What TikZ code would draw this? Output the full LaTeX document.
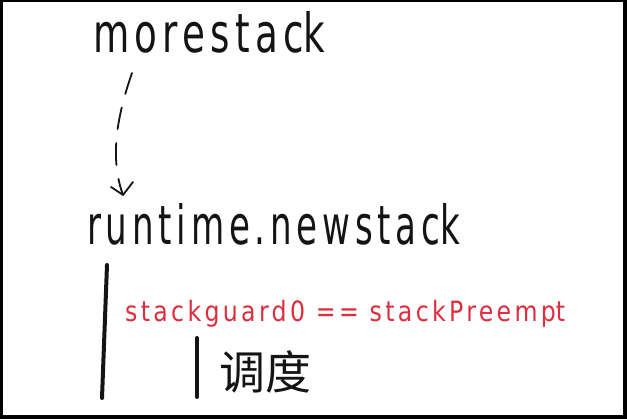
\documentclass[tikz,border=0pt]{standalone}
\usepackage{fontspec}
\setmainfont{DejaVu Sans}
\newfontfamily\spacedfont[LetterSpace=14]{DejaVu Sans}
\newfontfamily\cjkfont{Noto Sans CJK SC}
\definecolor{inkred}{RGB}{222,46,62}
\definecolor{ink}{RGB}{20,20,20}
\tikzset{
  codetext/.style={inner sep=0pt, anchor=base west, text=ink},
  redtext/.style={inner sep=0pt, anchor=base west, text=inkred},
  barline/.style={draw=ink, line width=4pt, line cap=round},
  callarrow/.style={draw=ink, line width=1.8pt, dash pattern=on 22pt off 14pt, line cap=round},
  arrowvee/.style={draw=ink, line width=1.8pt, line cap=round, line join=round}
}
\begin{document}
\begin{tikzpicture}[x=1pt,y=1pt]
\useasboundingbox (0,0) rectangle (627,419);
\fill[black] (0,0) rectangle (627,419);
\fill[white] (3,4) rectangle (623,417);
% texts
\node[codetext] (more) at (93,366) {\resizebox{232pt}{\height}{\fontsize{54}{60}\spacedfont morestac\addfontfeature{LetterSpace=0}k}};
\node[codetext] (newstack) at (87,174) {\resizebox{373pt}{\height}{\fontsize{54}{60}\spacedfont runtime.newstac\addfontfeature{LetterSpace=0}k}};
\node[redtext] (guard) at (125,97) {\resizebox{440pt}{\height}{\fontsize{28}{30}\spacedfont stackguard0 == stackPreemp\addfontfeature{LetterSpace=0}t}};
\node[inner sep=0pt, text=ink] (sched) at (265,47) {\fontsize{46}{50}\selectfont\cjkfont 调度};
% arrow
\coordinate (a0) at (132,346);
\coordinate (a1) at (123,224);
\draw[callarrow] (a0) .. controls (116,300) and (110,260) .. (a1);
\draw[arrowvee] (a1) ++(-12,8) -- (a1) -- ++(10,13);
% bars
\coordinate (b1t) at (107,154);
\coordinate (b1b) at (102,21);
\coordinate (b2t) at (197,81);
\coordinate (b2b) at (197,22);
\draw[barline] (b1t) -- (b1b);
\draw[barline] (b2t) -- (b2b);
\end{tikzpicture}
\end{document}
